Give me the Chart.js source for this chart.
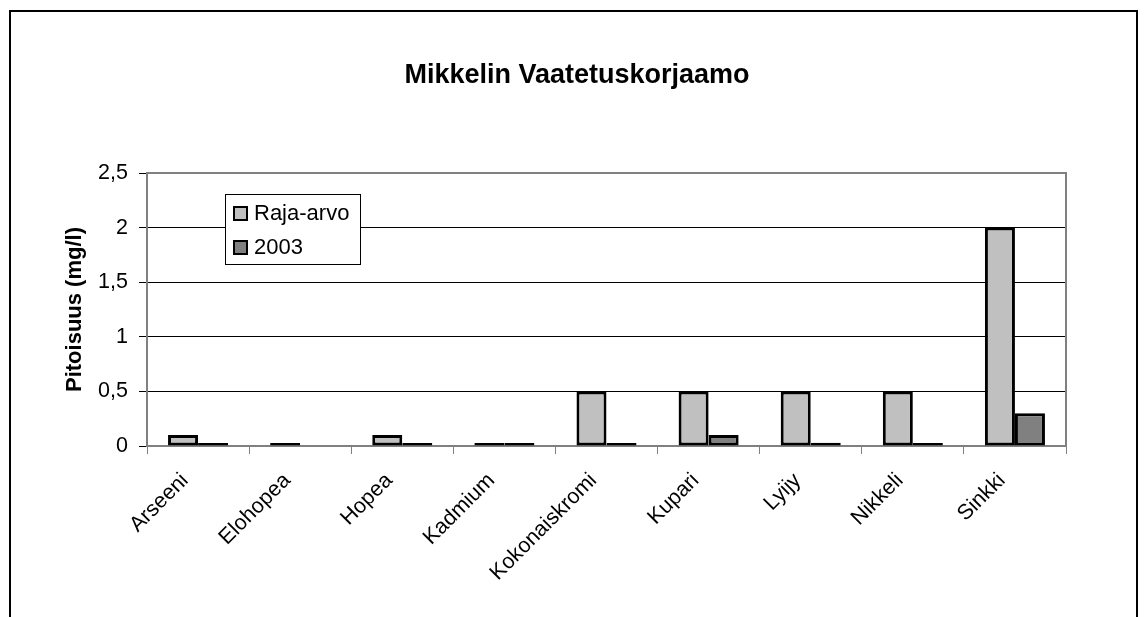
<!DOCTYPE html>
<html>
<head>
<meta charset="utf-8">
<script src="https://cdn.jsdelivr.net/npm/chart.js@4/dist/chart.umd.min.js"></script>
<style>
  body { margin: 0; background: #fff; }
  #wrap { position: absolute; left: 0; top: 0; width: 1146px; height: 617px; }
</style>
</head>
<body>
<div id="wrap"><canvas id="kaavio"></canvas></div>
<script>
var otsikko = 'Mikkelin Vaatetuskorjaamo';
var categories = ['Arseeni', 'Elohopea', 'Hopea', 'Kadmium', 'Kokonaiskromi', 'Kupari', 'Lyijy', 'Nikkeli', 'Sinkki'];
var rajaArvo = [0.1, 0.005, 0.1, 0.005, 0.5, 0.5, 0.5, 0.5, 2];
var arvot2003 = [0.01, null, 0.01, 0.01, 0.02, 0.1, 0.03, 0.01, 0.3];
var yTicks = [0, 0.5, 1, 1.5, 2, 2.5];

var fontti = 'Arial, "Liberation Sans", sans-serif';
Chart.defaults.font.family = fontti;
Chart.defaults.color = '#000';

// kehys, otsikko, kuva-alueen reunat ja oma selite
var kehys = {
    id: 'kehys',
    beforeDraw: function(chart){
        var c = chart.ctx;
        c.save();
        c.fillStyle = '#fff';
        c.fillRect(0, 0, chart.width, chart.height);
        c.strokeStyle = '#000';
        c.lineWidth = 2;
        c.beginPath();
        c.moveTo(10, 640);
        c.lineTo(10, 11);
        c.lineTo(1137, 11);
        c.lineTo(1137, 640);
        c.stroke();
        c.fillStyle = '#000';
        c.font = 'bold 27px ' + fontti;
        c.textAlign = 'center';
        c.textBaseline = 'middle';
        c.fillText(otsikko, 577, 76);
        c.restore();
    },
    beforeDatasetsDraw: function(chart){
        var c = chart.ctx, a = chart.chartArea;
        c.save();
        c.strokeStyle = '#808080';
        c.lineWidth = 2;
        c.strokeRect(a.left, a.top, a.right - a.left, a.bottom - a.top);
        c.restore();
    },
    afterDraw: function(chart){
        var c = chart.ctx;
        c.save();
        // selite
        var x = 225, y = 194, w = 135, h = 70;
        c.fillStyle = '#fff';
        c.fillRect(x, y, w, h);
        c.strokeStyle = '#000';
        c.lineWidth = 1;
        c.strokeRect(x + 0.5, y + 0.5, w, h);
        c.font = '22px ' + fontti;
        c.textBaseline = 'middle';
        chart.data.datasets.forEach(function(ds, i){
            var ry = y + 19 + i * 34;
            c.fillStyle = ds.backgroundColor;
            c.fillRect(x + 9, ry - 6, 13, 13);
            c.strokeStyle = '#000';
            c.lineWidth = 2;
            c.strokeRect(x + 9, ry - 6, 13, 13);
            c.fillStyle = '#000';
            c.fillText(ds.label, x + 29, ry + 1);
        });
        c.restore();
    }
};

new Chart(document.getElementById('kaavio'), {
    type: 'bar',
    data: {
        labels: categories,
        datasets: [{
            label: 'Raja-arvo',
            data: rajaArvo,
            backgroundColor: '#C0C0C0',
            borderColor: '#000',
            borderWidth: 3,
            borderSkipped: false
        }, {
            label: '2003',
            data: arvot2003,
            backgroundColor: '#808080',
            borderColor: '#000',
            borderWidth: 3,
            borderSkipped: false
        }]
    },
    options: {
        responsive: true,
        maintainAspectRatio: false,
        animation: false,
        datasets: { bar: { categoryPercentage: 0.588, barPercentage: 1, minBarLength: 3 } },
        layout: { padding: { left: 62, right: 80, top: 173, bottom: 0 } },
        plugins: {
            legend: { display: false },
            tooltip: { enabled: false },
            title: { display: false }
        },
        scales: {
            x: {
                afterFit: function(axis){ axis.height = 171; },
                grid: { display: true, drawOnChartArea: false, drawTicks: true, tickLength: 8, color: '#808080', offset: true },
                border: { display: true, color: '#808080', width: 2 },
                ticks: { maxRotation: 45, minRotation: 45, font: { size: 21.5 }, padding: 14, labelOffset: -13 }
            },
            y: {
                min: 0,
                max: 2.5,
                afterFit: function(axis){ axis.width = 85; },
                afterBuildTicks: function(axis){ axis.ticks = yTicks.map(function(v){ return { value: v }; }); },
                grid: { color: '#000', lineWidth: 1, tickLength: 8, drawTicks: true },
                border: { display: true, color: '#808080', width: 2 },
                ticks: {
                    font: { size: 21.5 },
                    padding: 11,
                    callback: function(v){ return String(v).replace('.', ','); }
                },
                title: {
                    display: true,
                    text: 'Pitoisuus (mg/l)',
                    font: { size: 22, weight: 'bold' },
                    padding: 0
                }
            }
        }
    },
    plugins: [kehys]
});
</script>
</body>
</html>
